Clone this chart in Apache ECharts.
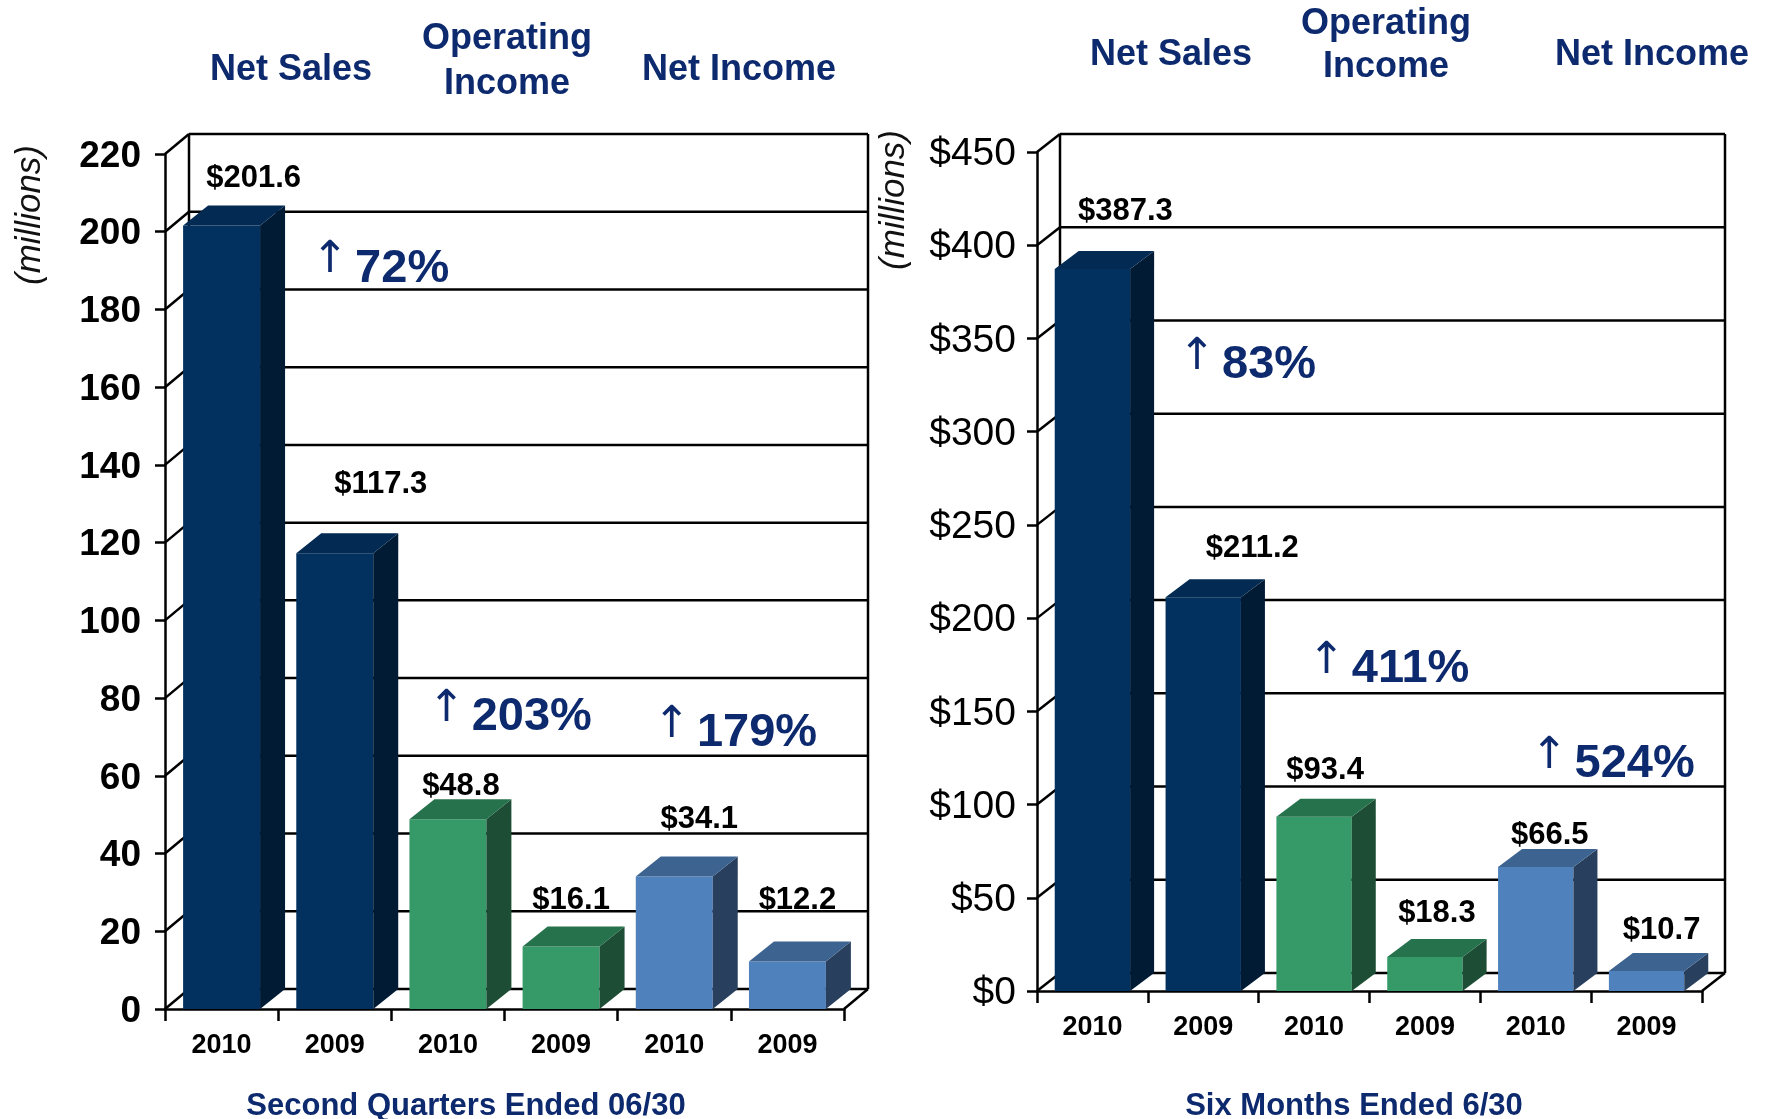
<!DOCTYPE html>
<html>
<head>
<meta charset="utf-8">
<title>Net Sales / Operating Income / Net Income</title>
<script src="https://cdn.jsdelivr.net/npm/echarts@6/dist/echarts.min.js"></script>
<style>
  html, body { margin: 0; padding: 0; background: #fff; }
  #main { width: 1769px; height: 1119px; }
</style>
</head>
<body>
<div id="main"></div>
<script>
// --- data ---
const categories = ['2010', '2009', '2010', '2009', '2010', '2009'];
const quarterValues = [201.6, 117.3, 48.8, 16.1, 34.1, 12.2];
const sixMonthValues = [387.3, 211.2, 93.4, 18.3, 66.5, 10.7];
const quarterTicks = [0, 20, 40, 60, 80, 100, 120, 140, 160, 180, 200, 220];
const sixMonthTicks = [0, 50, 100, 150, 200, 250, 300, 350, 400, 450];
const quarterGrowth = ['72%', '203%', '179%'];
const sixMonthGrowth = ['83%', '411%', '524%'];

// --- placement of the annotations (category position, value) ---
const quarterGrowthAt = [[1.18, 190.5], [2.21, 75], [4.2, 71]];
const sixMonthGrowthAt = [[1.17, 335.5], [2.34, 172.5], [4.35, 121.5]];
// value label nudges in px from the top-center of the bar front
const quarterLabelShift = [[32, -47], [46, -69], [13, -33], [10, -46], [25, -57], [10, -61]];
const sixMonthLabelShift = [[33, -57], [49, -49], [11, -46], [12, -43], [14, -32], [15, -41]];

const FONT = '"Liberation Sans", Arial, sans-serif';
const NAVY = '#0E2A6E';
const LINE = { stroke: '#000', lineWidth: 2.5 };

// front / side / top colours per group (net sales, operating income, net income)
const palette = [
    { front: '#02315F', side: '#011B35', top: '#022A52' },
    { front: '#359A68', side: '#1D4E35', top: '#26724D' },
    { front: '#4F81BD', side: '#293F5E', top: '#3D6491' }
];

function txt(x, y, text, font, fill, extra) {
    const el = {
        type: 'text', x: x, y: y, silent: true,
        style: {
            text: text, font: font, fill: fill,
            textAlign: 'center', textVerticalAlign: 'middle',
            align: 'center', verticalAlign: 'middle'
        }
    };
    if (extra) {
        if (extra.style) Object.assign(el.style, extra.style);
        if (extra.rotation) el.rotation = extra.rotation;
    }
    return el;
}

// back wall + floor, drawn with a depth offset behind the front axes
function frameSeries(gi, ticks, depth) {
    return {
        type: 'custom', xAxisIndex: gi, yAxisIndex: gi, z: 1, silent: true,
        data: ticks.map(t => [0, t]),
        renderItem: function (params, api) {
            const cs = params.coordSys;
            const dx = depth[0], dy = depth[1];
            const y = api.coord([0, api.value(1)])[1];
            const x0 = cs.x, x1 = cs.x + cs.width;
            const kids = [
                { type: 'line', shape: { x1: x0, y1: y, x2: x0 + dx, y2: y - dy }, style: LINE },
                { type: 'line', shape: { x1: x0 + dx, y1: y - dy, x2: x1 + dx, y2: y - dy }, style: LINE }
            ];
            if (params.dataIndex === 0) {
                const yb = cs.y + cs.height, yt = cs.y;
                kids.push(
                    { type: 'line', shape: { x1: x0 + dx, y1: yb - dy, x2: x0 + dx, y2: yt - dy }, style: LINE },
                    { type: 'line', shape: { x1: x1 + dx, y1: yb - dy, x2: x1 + dx, y2: yt - dy }, style: LINE },
                    { type: 'line', shape: { x1: x1, y1: yb, x2: x1 + dx, y2: yb - dy }, style: LINE }
                );
            }
            return { type: 'group', children: kids };
        }
    };
}

// 3d looking bars: front rect, side and top faces, plus the $ label
function barSeries(gi, values, shifts, depth) {
    return {
        type: 'custom', xAxisIndex: gi, yAxisIndex: gi, z: 3, silent: true,
        data: values.map((v, i) => [i, v]),
        renderItem: function (params, api) {
            const i = api.value(0), v = api.value(1);
            const top = api.coord([i, v]), base = api.coord([i, 0]);
            const w = api.size([1, 0])[0] * 0.68;
            const xl = top[0] - w / 2, xr = top[0] + w / 2;
            const dx = depth[0], dy = depth[1];
            const c = palette[Math.floor(i / 2)];
            return {
                type: 'group',
                children: [
                    { type: 'rect', shape: { x: xl, y: top[1], width: w, height: base[1] - top[1] }, style: { fill: c.front } },
                    { type: 'polygon', shape: { points: [[xr, top[1]], [xr + dx, top[1] - dy], [xr + dx, base[1] - dy], [xr, base[1]]] }, style: { fill: c.side } },
                    { type: 'polygon', shape: { points: [[xl, top[1]], [xl + dx, top[1] - dy], [xr + dx, top[1] - dy], [xr, top[1]]] }, style: { fill: c.top } },
                    txt(top[0] + shifts[i][0], top[1] + shifts[i][1], '$' + v.toFixed(1), 'bold 31px ' + FONT, '#000')
                ]
            };
        }
    };
}

// "↑ 72%" style growth notes
function growthSeries(gi, texts, anchors) {
    return {
        type: 'custom', xAxisIndex: gi, yAxisIndex: gi, z: 4, silent: true,
        data: anchors.map(a => [Math.floor(a[0]), a[1]]),
        renderItem: function (params, api) {
            const a = anchors[params.dataIndex];
            const p = api.coord([api.value(0), api.value(1)]);
            const band = api.size([1, 0])[0];
            const textLeft = p[0] + (a[0] - Math.floor(a[0])) * band;
            return {
                type: 'group',
                children: [
                    txt(textLeft - 25, p[1] - 8, '\u2191', '44px "DejaVu Sans", sans-serif', NAVY),
                    {
                        type: 'text', x: textLeft, y: p[1], silent: true,
                        style: {
                            text: texts[params.dataIndex], font: 'bold 47px ' + FONT, fill: NAVY,
                            textAlign: 'left', textVerticalAlign: 'middle', align: 'left', verticalAlign: 'middle'
                        }
                    }
                ]
            };
        }
    };
}

function xAxisOf(gi) {
    return {
        gridIndex: gi, type: 'category', data: categories,
        axisLine: { show: true, lineStyle: { color: '#000', width: 2.5 } },
        axisTick: { show: true, length: 12, interval: 0, lineStyle: { color: '#000', width: 2.5 } },
        axisLabel: { color: '#000', fontWeight: 'bold', fontSize: 27, fontFamily: FONT, margin: 23, interval: 0 },
        splitLine: { show: false }
    };
}

const chart = echarts.init(document.getElementById('main'));

const option = {
    backgroundColor: '#fff',
    animation: false,
    grid: [
        { left: 165, top: 154, width: 679, height: 855, outerBoundsMode: 'none' },
        { left: 1037, top: 152, width: 665, height: 839, outerBoundsMode: 'none' }
    ],
    xAxis: [xAxisOf(0), xAxisOf(1)],
    yAxis: [
        {
            gridIndex: 0, type: 'value',
            min: quarterTicks[0], max: quarterTicks[quarterTicks.length - 1], interval: quarterTicks[1] - quarterTicks[0],
            axisLine: { show: true, lineStyle: { color: '#000', width: 2.5 } },
            axisTick: { show: true, length: 10, lineStyle: { color: '#000', width: 2.5 } },
            axisLabel: {
                margin: 24, formatter: '{t|{value}}',
                rich: { t: { color: '#000', fontWeight: 'bold', fontSize: 37, fontFamily: FONT, padding: [5, 0, 0, 0] } }
            },
            splitLine: { show: false }
        },
        {
            gridIndex: 1, type: 'value',
            min: sixMonthTicks[0], max: sixMonthTicks[sixMonthTicks.length - 1], interval: sixMonthTicks[1] - sixMonthTicks[0],
            axisLine: { show: true, lineStyle: { color: '#000', width: 2.5 } },
            axisTick: { show: true, length: 10, lineStyle: { color: '#000', width: 2.5 } },
            axisLabel: {
                margin: 21, formatter: '{t|${value}}',
                rich: { t: { color: '#000', fontSize: 39, fontFamily: FONT, padding: [5, 0, 0, 0] } }
            },
            splitLine: { show: false }
        }
    ],
    graphic: [
        // group headers
        txt(291, 70, 'Net Sales', 'bold 36px ' + FONT, NAVY),
        txt(507, 62, 'Operating\nIncome', 'bold 36px ' + FONT, NAVY, { style: { lineHeight: 45 } }),
        txt(739, 70, 'Net Income', 'bold 36px ' + FONT, NAVY),
        txt(1171, 55, 'Net Sales', 'bold 36px ' + FONT, NAVY),
        txt(1386, 46, 'Operating\nIncome', 'bold 36px ' + FONT, NAVY, { style: { lineHeight: 43 } }),
        txt(1652, 55, 'Net Income', 'bold 36px ' + FONT, NAVY),
        // unit notes
        txt(30, 215, '(millions)', 'italic 35px ' + FONT, '#111', { rotation: Math.PI / 2 }),
        txt(894, 200, '(millions)', 'italic 35px ' + FONT, '#111', { rotation: Math.PI / 2 }),
        // period captions
        txt(466, 1106, 'Second Quarters Ended 06/30', 'bold 31px ' + FONT, NAVY),
        txt(1354, 1106, 'Six Months Ended 6/30', 'bold 31px ' + FONT, NAVY)
    ],
    series: [
        frameSeries(0, quarterTicks, [24, 20]),
        frameSeries(1, sixMonthTicks, [23, 18]),
        barSeries(0, quarterValues, quarterLabelShift, [25, 20]),
        barSeries(1, sixMonthValues, sixMonthLabelShift, [24, 18]),
        growthSeries(0, quarterGrowth, quarterGrowthAt),
        growthSeries(1, sixMonthGrowth, sixMonthGrowthAt)
    ]
};

chart.setOption(option);
</script>
</body>
</html>
